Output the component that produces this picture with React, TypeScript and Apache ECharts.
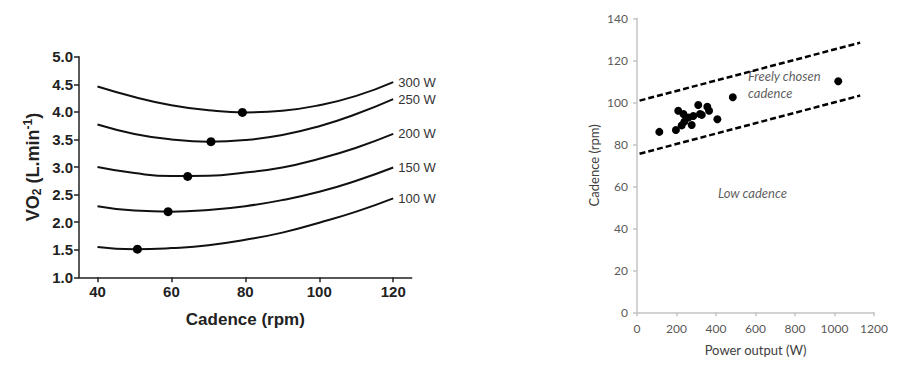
import React, { useEffect, useRef } from 'react';
import * as echarts from 'echarts';

// ---------- Left panel: VO2 vs cadence ----------
const cadenceTicks = [40, 60, 80, 100, 120];
const cadencePoints = [40, 50, 60, 70, 80, 90, 100, 110, 120];
const powerLabels = ['100 W', '150 W', '200 W', '250 W', '300 W'];
const vo2At100W = [1.55, 1.51, 1.53, 1.58, 1.68, 1.81, 1.99, 2.19, 2.43];
const vo2At150W = [2.29, 2.21, 2.19, 2.22, 2.29, 2.4, 2.55, 2.75, 2.99];
const vo2At200W = [3.0, 2.89, 2.835, 2.84, 2.9, 2.99, 3.15, 3.35, 3.6];
const vo2At250W = [3.77, 3.6, 3.5, 3.46, 3.49, 3.58, 3.74, 3.96, 4.23];
const vo2At300W = [4.46, 4.27, 4.12, 4.03, 3.99, 4.02, 4.12, 4.29, 4.54];
const optimumCadence = [50.8, 59.1, 64.4, 70.7, 79.2];
const optimumVo2 = [1.51, 2.19, 2.83, 3.46, 3.99];

// ---------- Right panel: freely chosen cadence vs power ----------
const powerOutput = [113, 197, 209, 226, 240, 235, 260, 277, 285, 310, 319, 328, 356, 365, 407, 485, 1019];
const chosenCadence = [85.9, 86.8, 96.0, 89.0, 90.8, 94.4, 92.8, 89.2, 93.5, 98.7, 94.4, 94.0, 97.9, 96.0, 91.9, 102.4, 110];
const boundaryPower = [13, 1130];
const upperBoundary = [100.8, 128.4];
const lowerBoundary = [75.5, 103.2];
const annotationTexts = ['Freely chosen\ncadence', 'Low cadence'];
const annotationPower = [562, 410];
const annotationCadence = [108.5, 56.8];

export default function App() {
  const ref = useRef<HTMLDivElement>(null);

  useEffect(() => {
    if (!ref.current) return;
    const chart = echarts.init(ref.current, null, { renderer: 'svg' });

    const curves = [vo2At100W, vo2At150W, vo2At200W, vo2At250W, vo2At300W];
    const leftFont = 'Liberation Sans, Arial, sans-serif';
    const rightFont = 'Lato, sans-serif';

    const curveSeries = curves.map((vals, i) => ({
      type: 'line',
      xAxisIndex: 0,
      yAxisIndex: 0,
      data: cadencePoints.map((c, j) => [c, vals[j]]),
      smooth: true,
      showSymbol: false,
      symbol: 'none',
      lineStyle: { color: '#111', width: 2 },
      endLabel: {
        show: true,
        formatter: powerLabels[i],
        color: '#333',
        fontSize: 13,
        fontFamily: leftFont,
        distance: 5,
      },
      silent: true,
      z: 2,
    }));

    const option: any = {
      animation: false,
      backgroundColor: '#fff',
      grid: [
        { left: 79, top: 56.7, width: 332.7, height: 220.6 },
        { left: 637, top: 18.3, width: 237, height: 294 },
      ],
      xAxis: [
        {
          gridIndex: 0,
          type: 'value',
          min: 35,
          max: 125,
          name: 'Cadence (rpm)',
          nameLocation: 'middle',
          nameGap: 34,
          nameTextStyle: { fontFamily: leftFont, fontWeight: 'bold', fontSize: 17, color: '#222' },
          axisLine: { show: true, lineStyle: { color: '#222', width: 1.5 } },
          axisTick: { show: true, inside: false, length: 5, customValues: cadenceTicks, lineStyle: { color: '#222', width: 1.5 } },
          axisLabel: { customValues: cadenceTicks, fontFamily: leftFont, fontWeight: 'bold', fontSize: 15, color: '#222', margin: 7 },
          splitLine: { show: false },
        },
        {
          gridIndex: 1,
          type: 'value',
          min: 0,
          max: 1200,
          interval: 200,
          name: 'Power output (W)',
          nameLocation: 'middle',
          nameGap: 31,
          nameTextStyle: { fontFamily: rightFont, fontSize: 13, color: '#404040' },
          axisLine: { show: true, lineStyle: { color: '#c4c4c4', width: 1.5 } },
          axisTick: { show: true, inside: false, length: 4, lineStyle: { color: '#c4c4c4', width: 1.5 } },
          axisLabel: { fontFamily: rightFont, fontSize: 12, color: '#595959', margin: 10, formatter: (v: number) => String(v) },
          splitLine: { show: false },
        },
      ],
      yAxis: [
        {
          gridIndex: 0,
          type: 'value',
          min: 1,
          max: 5,
          interval: 0.5,
          name: '{v|VO}{sub|2}{v| (L.min}{sup|-1}{v|)}',
          nameLocation: 'middle',
          nameGap: 36,
          nameTextStyle: {
            fontFamily: leftFont,
            fontWeight: 'bold',
            fontSize: 18,
            color: '#222',
            rich: {
              v: { fontFamily: leftFont, fontWeight: 'bold', fontSize: 18, color: '#222' },
              sub: { fontFamily: leftFont, fontWeight: 'bold', fontSize: 12, color: '#222', padding: [9, 0, 0, 0] },
              sup: { fontFamily: leftFont, fontWeight: 'bold', fontSize: 12, color: '#222', padding: [0, 0, 9, 0] },
            },
          },
          axisLine: { show: true, lineStyle: { color: '#222', width: 1.5 } },
          axisTick: { show: true, inside: false, length: 5, lineStyle: { color: '#222', width: 1.5 } },
          axisLabel: {
            fontFamily: leftFont,
            fontWeight: 'bold',
            fontSize: 15,
            color: '#222',
            margin: 6,
            formatter: (v: number) => v.toFixed(1),
          },
          splitLine: { show: false },
        },
        {
          gridIndex: 1,
          type: 'value',
          min: 0,
          max: 140,
          interval: 20,
          name: 'Cadence (rpm)',
          nameLocation: 'middle',
          nameGap: 37,
          nameTextStyle: { fontFamily: rightFont, fontSize: 13, color: '#404040' },
          axisLine: { show: true, lineStyle: { color: '#c4c4c4', width: 1.5 } },
          axisTick: { show: true, inside: false, length: 4, lineStyle: { color: '#c4c4c4', width: 1.5 } },
          axisLabel: { fontFamily: rightFont, fontSize: 12, color: '#595959', margin: 9 },
          splitLine: { show: false },
        },
      ],
      series: [
        ...curveSeries,
        {
          type: 'scatter',
          xAxisIndex: 0,
          yAxisIndex: 0,
          data: optimumCadence.map((c, i) => [c, optimumVo2[i]]),
          symbolSize: 9,
          itemStyle: { color: '#000', opacity: 1 },
          silent: true,
          z: 3,
        },
        {
          type: 'line',
          xAxisIndex: 1,
          yAxisIndex: 1,
          data: boundaryPower.map((p, i) => [p, upperBoundary[i]]),
          showSymbol: false,
          symbol: 'none',
          lineStyle: { color: '#000', width: 2.5, type: [6, 3] },
          silent: true,
        },
        {
          type: 'line',
          xAxisIndex: 1,
          yAxisIndex: 1,
          data: boundaryPower.map((p, i) => [p, lowerBoundary[i]]),
          showSymbol: false,
          symbol: 'none',
          lineStyle: { color: '#000', width: 2.5, type: [6, 3] },
          silent: true,
        },
        {
          type: 'scatter',
          xAxisIndex: 1,
          yAxisIndex: 1,
          data: powerOutput.map((p, i) => [p, chosenCadence[i]]),
          symbolSize: 8,
          itemStyle: { color: '#000', opacity: 1 },
          silent: true,
        },
        {
          type: 'scatter',
          xAxisIndex: 1,
          yAxisIndex: 1,
          data: annotationTexts.map((t, i) => ({ value: [annotationPower[i], annotationCadence[i]], name: t })),
          symbolSize: 0,
          silent: true,
          label: {
            show: true,
            position: 'right',
            distance: 0,
            formatter: (p: any) => p.name,
            fontFamily: rightFont,
            fontStyle: 'italic',
            fontSize: 13,
            lineHeight: 17,
            color: '#333',
            align: 'left',
          },
        },
      ],
    };

    chart.setOption(option);
    return () => chart.dispose();
  }, []);

  return (
    <div
      ref={ref}
      style={{ position: 'absolute', left: 0, top: 0, width: 912, height: 372, background: '#fff' }}
    />
  );
}
